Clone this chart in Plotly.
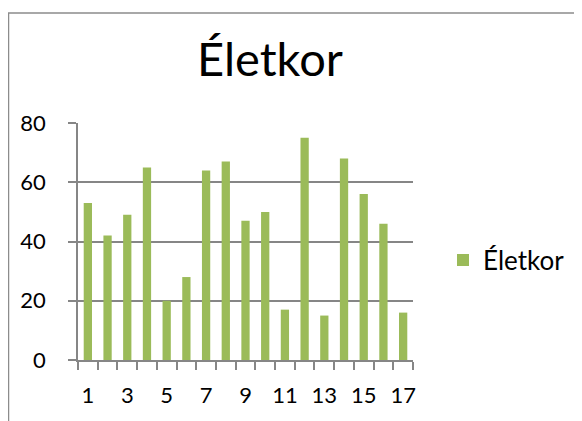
import plotly.graph_objects as go

categories = list(range(1, 18))
eletkor = [53, 42, 49, 65, 20, 28, 64, 67, 47, 50, 17, 75, 15, 68, 56, 46, 16]
tick_labels = [str(c) for c in categories[::2]]

# page body has an 8px margin, so work in coordinates shifted by 8px
W, H = 574, 413
L, T = 70, 115
plot_right, plot_bottom = 405, 352
R, B = W - plot_right, H - plot_bottom
pw, ph = plot_right - L, plot_bottom - T

fig = go.Figure(go.Bar(
    x=categories,
    y=eletkor,
    name="Életkor",
    marker=dict(color="#9BBB59", line=dict(width=0)),
    showlegend=True,
))

fig.update_layout(
    width=W, height=H,
    margin=dict(l=L, r=R, t=T, b=B),
    paper_bgcolor="white",
    plot_bgcolor="white",
    font=dict(family="Lato", size=22, color="black"),
    bargap=0.58,
    title=dict(text="Életkor", x=262 / W, xanchor="center",
               y=1 - 52 / H, yanchor="middle", font=dict(size=47)),
    legend=dict(x=(435 - L) / pw, y=(plot_bottom - 252) / ph, xanchor="left", yanchor="middle",
                font=dict(size=26), bgcolor="rgba(0,0,0,0)"),
    shapes=[dict(type="rect", xref="paper", yref="paper",
                 x0=(0.5 - L) / pw, x1=2, y0=-1, y1=(plot_bottom - 5) / ph,
                 line=dict(color="#8C8C8C", width=1.5))],
)

fig.update_xaxes(
    range=[0.5, 17.5],
    tickvals=categories[::2], ticktext=tick_labels,
    ticks="", showgrid=False, ticklabelstandoff=15,
    showline=True, linecolor="#868686", linewidth=1.5,
    minor=dict(tick0=0.5, dtick=1, ticks="outside", ticklen=8, tickcolor="#868686", tickwidth=1.5),
    zeroline=False,
)
fig.update_yaxes(
    range=[0, 80], dtick=20,
    ticks="outside", ticklen=8, tickcolor="#868686", tickwidth=1.5,
    showgrid=True, gridcolor="#868686", gridwidth=1.5, ticklabelstandoff=18,
    showline=True, linecolor="#868686", linewidth=1.5,
    zeroline=False,
)

fig.write_html("out.html")
